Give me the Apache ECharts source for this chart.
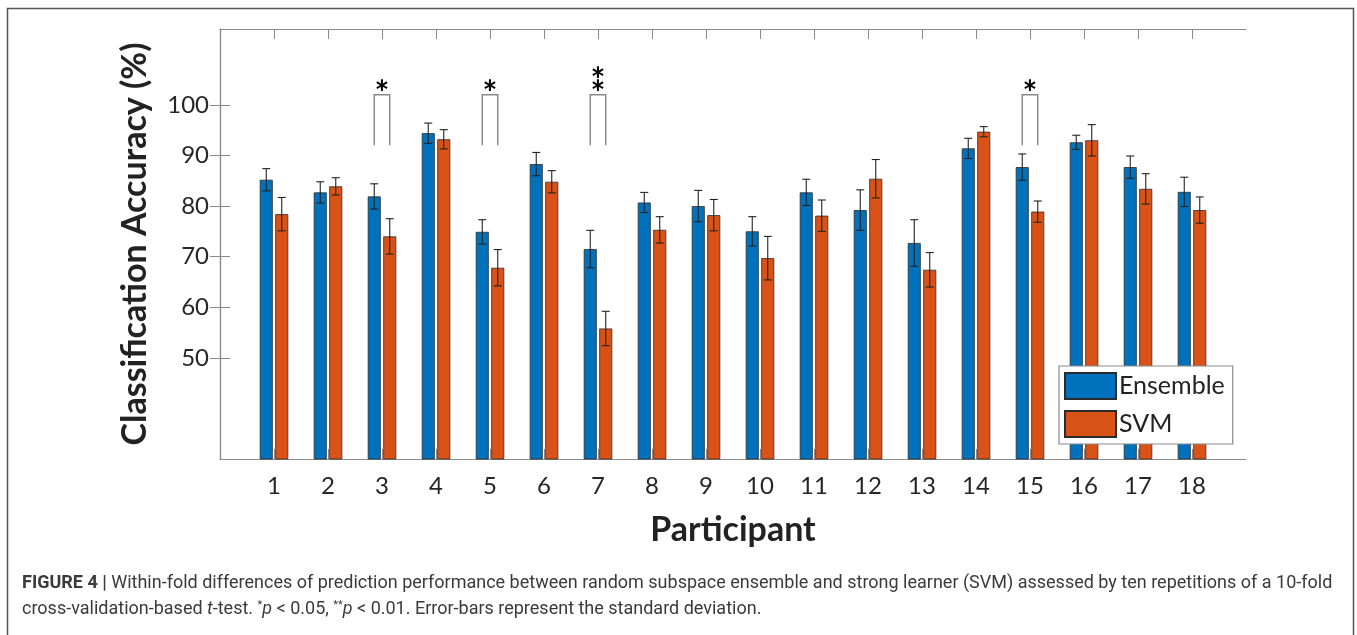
<!DOCTYPE html>
<html>
<head>
<meta charset="utf-8">
<script src="https://cdn.jsdelivr.net/npm/echarts@6/dist/echarts.min.js"></script>
<style>
  html, body { margin: 0; padding: 0; background: #fff; }
  #chart { width: 1357px; height: 635px; }
</style>
</head>
<body>
<div id="chart"></div>
<script>
// Per-participant classification accuracy (%), mean and standard deviation
const participants = [1, 2, 3, 4, 5, 6, 7, 8, 9, 10, 11, 12, 13, 14, 15, 16, 17, 18];
const ensembleMean = [85.2, 82.7, 81.9, 94.4, 74.9, 88.3, 71.5, 80.7, 80.0, 75.0, 82.7, 79.2, 72.7, 91.4, 87.7, 92.6, 87.7, 82.8];
const ensembleSd   = [2.2, 2.1, 2.5, 2.0, 2.4, 2.3, 3.7, 2.0, 3.1, 2.9, 2.6, 4.0, 4.6, 2.0, 2.6, 1.4, 2.2, 2.9];
const svmMean      = [78.4, 83.9, 74.0, 93.2, 67.8, 84.8, 55.8, 75.3, 78.2, 69.7, 78.1, 85.4, 67.4, 94.7, 78.9, 93.0, 83.4, 79.2];
const svmSd        = [3.3, 1.7, 3.5, 1.9, 3.6, 2.2, 3.4, 2.6, 3.1, 4.3, 3.1, 3.8, 3.4, 1.0, 2.1, 3.1, 3.0, 2.6];
const yTicks = [50, 60, 70, 80, 90, 100];
// Significant within-fold differences
const sigParticipants = [3, 5, 7, 15];
const sigStars = ['*', '*', '**', '*'];

const BLUE = '#0072BD';
const ORANGE = '#D95319';
const AXIS = '#8a8a8a';
const FONT = 'Lato, "Open Sans", sans-serif';
const BAR_W = 13;
const BAR_GAP = 2.5;
const OFFSET = (BAR_W + BAR_GAP) / 2;

const chart = echarts.init(document.getElementById('chart'));

function errorBars(offset) {
  return function (params, api) {
    const x = api.value(0), m = api.value(1), s = api.value(2);
    const hi = api.coord([x, m + s]);
    const lo = api.coord([x, m - s]);
    const px = hi[0] + offset;
    const cap = 4;
    const style = { stroke: '#222', lineWidth: 1.1 };
    return {
      type: 'group',
      children: [
        { type: 'line', shape: { x1: px, y1: hi[1], x2: px, y2: lo[1] }, style },
        { type: 'line', shape: { x1: px - cap, y1: hi[1], x2: px + cap, y2: hi[1] }, style },
        { type: 'line', shape: { x1: px - cap, y1: lo[1], x2: px + cap, y2: lo[1] }, style }
      ]
    };
  };
}

function bracket(params, api) {
  const x = api.value(0);
  const top = api.coord([x, 102]);
  const bot = api.coord([x, 92]);
  const xl = top[0] - OFFSET, xr = top[0] + OFFSET;
  const stars = sigStars[params.dataIndex];
  return {
    type: 'group',
    children: [
      { type: 'polyline',
        shape: { points: [[xl, bot[1]], [xl, top[1]], [xr, top[1]], [xr, bot[1]]] },
        style: { stroke: '#8a8a8a', lineWidth: 1.5, fill: null } },
      { type: 'text',
        style: { text: stars.split('').join('\n'), x: top[0], y: top[1] + 5,
                 align: 'center', verticalAlign: 'bottom', lineHeight: 13,
                 font: 'bold 35px ' + FONT, fill: '#000' } }
    ]
  };
}

const pair = (xs, ys) => xs.map((x, i) => [x, ys[i]]);
const triple = (xs, ys, ss) => xs.map((x, i) => [x, ys[i], ss[i]]);

const option = {
  animation: false,
  textStyle: { fontFamily: FONT },
  grid: { left: 220, top: 29, width: 1026, height: 430 },
  xAxis: [
    { type: 'value', min: 0, max: 19, interval: 1,
      name: 'Participant', nameLocation: 'middle', nameGap: 54,
      nameTextStyle: { fontSize: 34, fontWeight: 'bold', color: '#222', fontFamily: FONT },
      axisLine: { show: true, lineStyle: { color: AXIS, width: 1.2 } },
      axisTick: { show: true, inside: true, length: 10, lineStyle: { color: AXIS }, customValues: participants },
      axisLabel: { show: true, fontSize: 24, color: '#262626', margin: 15, customValues: participants },
      splitLine: { show: false } },
    { type: 'value', position: 'top', min: 0, max: 19, interval: 1,
      axisLine: { show: true, lineStyle: { color: AXIS, width: 1.2 } },
      axisTick: { show: true, inside: true, length: 10, lineStyle: { color: AXIS }, customValues: participants },
      axisLabel: { show: false }, splitLine: { show: false } }
  ],
  yAxis: [
    { type: 'value', min: 30, max: 115, interval: 10,
      name: 'Classification Accuracy (%)', nameLocation: 'middle', nameGap: 68,
      nameTextStyle: { fontSize: 34, fontWeight: 'bold', color: '#222', fontFamily: FONT },
      axisLine: { show: true, lineStyle: { color: AXIS, width: 1.2 } },
      axisTick: { show: true, inside: true, length: 10, lineStyle: { color: AXIS }, customValues: yTicks },
      axisLabel: { show: true, fontSize: 24, color: '#262626', margin: 11, customValues: yTicks },
      splitLine: { show: false } },
    { type: 'value', position: 'right', min: 30, max: 115, interval: 10,
      axisLine: { show: true, lineStyle: { color: AXIS, width: 1.2 } },
      axisTick: { show: true, inside: true, length: 10, lineStyle: { color: AXIS }, customValues: yTicks },
      axisLabel: { show: false }, splitLine: { show: false } }
  ],
  legend: {
    data: ['Ensemble', 'SVM'], orient: 'vertical', left: 1059, top: 366,
    icon: 'rect', itemWidth: 51, itemHeight: 26, itemGap: 10,
    padding: [6, 8, 6, 5], backgroundColor: '#fff', borderColor: AXIS, borderWidth: 1.2,
    selectedMode: false,
    textStyle: { fontSize: 25, color: '#222', padding: [0, 0, 0, -2], fontFamily: FONT }
  },
  series: [
    { name: 'Ensemble', type: 'bar', data: pair(participants, ensembleMean),
      barWidth: BAR_W, barGap: (BAR_GAP / BAR_W * 100) + '%',
      itemStyle: { color: BLUE, borderColor: '#2b2b2b', borderWidth: 0.8 } },
    { name: 'SVM', type: 'bar', data: pair(participants, svmMean),
      barWidth: BAR_W,
      itemStyle: { color: ORANGE, borderColor: '#2b2b2b', borderWidth: 0.8 } },
    { type: 'custom', renderItem: errorBars(-OFFSET), data: triple(participants, ensembleMean, ensembleSd), z: 5, silent: true },
    { type: 'custom', renderItem: errorBars(OFFSET), data: triple(participants, svmMean, svmSd), z: 5, silent: true },
    { type: 'custom', renderItem: bracket, data: sigParticipants.map(p => [p, 102]), z: 5, silent: true, clip: false }
  ],
  graphic: [
    { type: 'rect', shape: { x: 7.5, y: 8.5, width: 1346, height: 660 },
      style: { fill: null, stroke: '#555', lineWidth: 1.5 }, silent: true },
    { type: 'text', left: 22, top: 574,
      style: {
        text: '{b|FIGURE 4 |} Within-fold differences of prediction performance between random subspace ensemble and strong learner (SVM) assessed by ten repetitions of a 10-fold',
        font: '18px Roboto, sans-serif', fill: '#3a3a3a',
        rich: { b: { font: 'bold 18px Roboto, sans-serif', fill: '#3a3a3a' } }
      } },
    { type: 'text', left: 22, top: 600,
      style: {
        text: 'cross-validation-based {i|t}-test. {s|*}{i|p} < 0.05, {s|**}{i|p} < 0.01. Error-bars represent the standard deviation.',
        font: '18px Roboto, sans-serif', fill: '#3a3a3a',
        rich: {
          i: { font: 'italic 18px Roboto, sans-serif', fill: '#3a3a3a' },
          s: { font: '11px Roboto, sans-serif', fill: '#3a3a3a', verticalAlign: 'top', padding: [0, 0, 7, 0] }
        }
      } }
  ]
};

chart.setOption(option);
</script>
</body>
</html>
